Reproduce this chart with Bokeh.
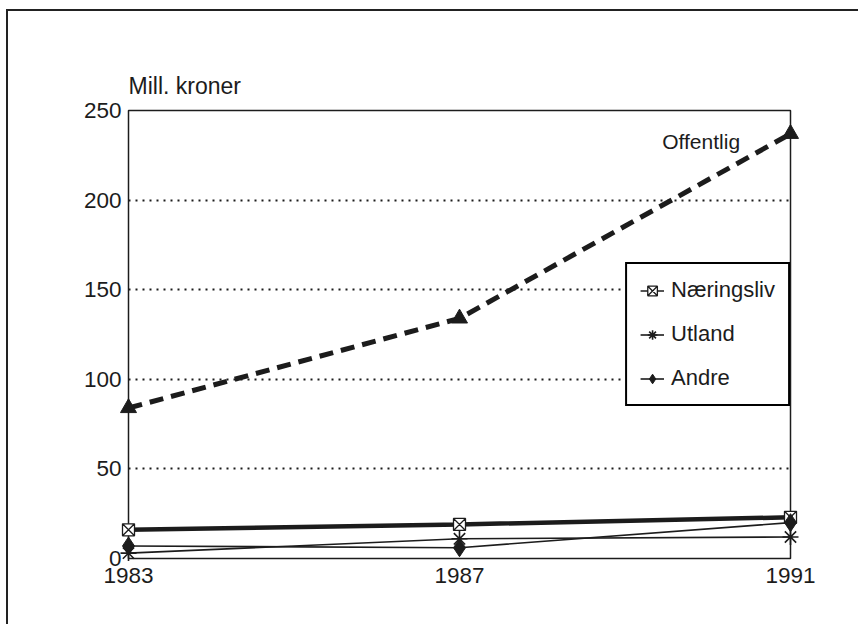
from bokeh.plotting import figure
from bokeh.models import Range1d, FixedTicker, Legend, LegendItem, Label
from bokeh.embed import file_html
from bokeh.resources import INLINE

# ---- data ----
years = [1983, 1987, 1991]
offentlig = [84, 134, 237]
naeringsliv = [16, 19, 23]
utland = [3, 11, 12]
andre = [7, 6, 20]
series_names = ["Offentlig", "Næringsliv", "Utland", "Andre"]
y_ticks = [0, 50, 100, 150, 200, 250]
y_title = "Mill. kroner"

FONT = "Liberation Sans"
INK = "#1c1c1c"

p = figure(width=852, height=615, output_backend="svg", toolbar_location=None,
           x_range=Range1d(1983, 1991), y_range=Range1d(0, 250),
           min_border_left=120, min_border_right=70, min_border_top=99,
           min_border_bottom=68, title=y_title)
p.styles = {"border-left": "2px solid #222", "border-top": "2px solid #222",
            "margin-left": "6px", "margin-top": "9px"}

p.title.text_font = FONT
p.title.text_font_size = "23px"
p.title.text_font_style = "normal"
p.title.text_color = INK
p.title.align = "left"
p.title.standoff = 24

p.outline_line_color = INK
p.outline_line_width = 1.5
p.background_fill_color = "white"
p.border_fill_color = "white"

p.xgrid.grid_line_color = None
p.ygrid.ticker = FixedTicker(ticks=y_ticks)
p.ygrid.grid_line_color = INK
p.ygrid.grid_line_dash = "2 5"
p.ygrid.grid_line_width = 1.8

for ax in (p.xaxis[0], p.yaxis[0]):
    ax.axis_line_color = None
    ax.major_tick_line_color = None
    ax.minor_tick_line_color = None
    ax.major_tick_out = 0
    ax.major_tick_in = 0
    ax.major_label_text_font = FONT
    ax.major_label_text_font_size = "22.5px"
    ax.major_label_text_color = INK
p.xaxis.ticker = FixedTicker(ticks=years)
p.xaxis.major_label_standoff = 9
p.yaxis.ticker = FixedTicker(ticks=y_ticks)
p.yaxis.major_label_standoff = 7

# Offentlig
r_off = p.line(years, offentlig, line_color=INK, line_width=5, line_dash="14 8", level="overlay")
p.scatter(years, offentlig, marker="triangle", size=16, fill_color=INK, line_color=INK, level="overlay")

# Næringsliv
p.line(years, naeringsliv, line_color=INK, line_width=4.5, level="overlay")
r_n_line = p.line(years, naeringsliv, line_color=INK, line_width=1.5, level="overlay")
r_n_mark = p.scatter(years, naeringsliv, marker="square_x", size=12, fill_color="white",
                     line_color=INK, line_width=1.3, level="overlay")

# Utland
r_u_line = p.line(years, utland, line_color=INK, line_width=1.6, level="overlay")
r_u_mark = p.scatter(years, utland, marker="asterisk", size=16, line_color=INK,
                     line_width=1.6, level="overlay")

# Andre
r_a_line = p.line(years, andre, line_color=INK, line_width=1.6, level="overlay")
r_a_mark = p.scatter(years, andre, marker="diamond", size=18, fill_color=INK,
                     line_color=INK, level="overlay")

p.add_layout(Label(x=1989.45, y=232.7, text=series_names[0], text_baseline="middle",
                   text_align="left", text_font=FONT, text_font_size="21px",
                   text_color=INK))

legend = Legend(items=[
    LegendItem(label=series_names[1], renderers=[r_n_line, r_n_mark]),
    LegendItem(label=series_names[2], renderers=[r_u_line, r_u_mark]),
    LegendItem(label=series_names[3], renderers=[r_a_line, r_a_mark]),
], location="center_right")
legend.margin = 0
legend.padding = 13
legend.spacing = 18
legend.glyph_width = 24
legend.glyph_height = 25
legend.label_height = 25
legend.label_standoff = 7
legend.label_text_font = FONT
legend.label_text_font_size = "22px"
legend.label_text_color = INK
legend.border_line_color = "black"
legend.border_line_width = 2
legend.border_line_alpha = 1
legend.background_fill_color = "white"
legend.background_fill_alpha = 1
p.add_layout(legend)

open("out.html", "w").write(file_html(p, INLINE))
